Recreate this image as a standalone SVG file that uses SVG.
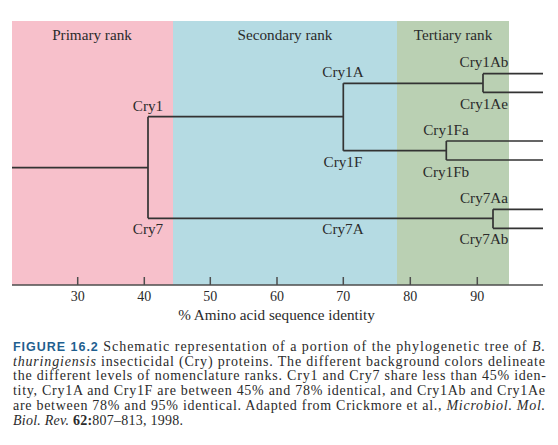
<svg xmlns="http://www.w3.org/2000/svg" width="558" height="445" viewBox="0 0 558 445">
<style>
.lbl{font-family:"Liberation Serif","Times New Roman",serif;font-size:15.2px;fill:#2b2b2b;text-anchor:middle}
.tick{font-family:"Liberation Serif","Times New Roman",serif;font-size:14px;fill:#2b2b2b;text-anchor:middle}
.cap{font-family:"Liberation Serif","Times New Roman",serif;font-size:14px;fill:#2b2b2b}
.fig{font-family:"Liberation Sans",Arial,sans-serif;font-weight:bold;font-size:12.5px;fill:#1f5f8f}
.br{fill:none;stroke:#333;stroke-width:1.7}
.ax{fill:none;stroke:#4d4d4d;stroke-width:1.5}
</style>
<rect width="558" height="445" fill="#ffffff"/>
<g id="bands">
<rect x="12" y="21" width="161" height="264" fill="#f7c0cb"/>
<rect x="173" y="21" width="224" height="264" fill="#b5dbe3"/>
<rect x="397" y="21" width="112" height="264" fill="#bad0b3"/>
<text class="lbl" x="92" y="40">Primary rank</text>
<text class="lbl" x="285" y="40">Secondary rank</text>
<text class="lbl" x="453" y="40">Tertiary rank</text>
</g>
<g id="connectors">
<path class="br" d="M12,167.7 H148 M148,116.7 V218.3 M148,116.7 H343.3 M343.3,83.3 V150.7 M343.3,83.3 H483 M483,73.7 V92.3 M483,73.7 H543 M483,92.3 H543 M343.3,150.7 H446.3 M446.3,141 V160 M446.3,141 H543 M446.3,160 H543 M148,218.3 H493 M493,209.3 V228.3 M493,209.3 H543 M493,228.3 H543"/>
</g>
<g id="axis">
<path class="ax" d="M12,285 H543 M77.7,277 V285 M144.3,277 V285 M210.3,277 V285 M277,277 V285 M343.3,277 V285 M410.3,277 V285 M477.3,277 V285"/>
<text class="tick" x="77.7" y="301">30</text>
<text class="tick" x="144.3" y="301">40</text>
<text class="tick" x="210.3" y="301">50</text>
<text class="tick" x="277" y="301">60</text>
<text class="tick" x="343.3" y="301">70</text>
<text class="tick" x="410.3" y="301">80</text>
<text class="tick" x="477.3" y="301">90</text>
<text class="lbl" x="276.5" y="320">% Amino acid sequence identity</text>
</g>
<g id="node-cry1"><text class="lbl" x="148" y="110.5">Cry1</text></g>
<g id="node-cry7"><text class="lbl" x="148" y="234">Cry7</text></g>
<g id="node-cry1a"><text class="lbl" x="343" y="77">Cry1A</text></g>
<g id="node-cry1f"><text class="lbl" x="343" y="166.5">Cry1F</text></g>
<g id="node-cry7a"><text class="lbl" x="343" y="233.5">Cry7A</text></g>
<g id="node-cry1ab"><text class="lbl" x="484" y="66.5">Cry1Ab</text></g>
<g id="node-cry1ae"><text class="lbl" x="484" y="109">Cry1Ae</text></g>
<g id="node-cry1fa"><text class="lbl" x="446" y="135">Cry1Fa</text></g>
<g id="node-cry1fb"><text class="lbl" x="446" y="176.5">Cry1Fb</text></g>
<g id="node-cry7aa"><text class="lbl" x="484" y="202.5">Cry7Aa</text></g>
<g id="node-cry7ab"><text class="lbl" x="484" y="244">Cry7Ab</text></g>
<g id="caption">
<text class="cap" x="13" y="350.5" textLength="532" lengthAdjust="spacing"><tspan class="fig">FIGURE 16.2</tspan> Schematic representation of a portion of the phylogenetic tree of <tspan font-style="italic">B.</tspan></text>
<text class="cap" x="13" y="365.5" textLength="532" lengthAdjust="spacing"><tspan font-style="italic">thuringiensis</tspan> insecticidal (Cry) proteins. The different background colors delineate</text>
<text class="cap" x="13" y="380.3" textLength="533" lengthAdjust="spacing">the different levels of nomenclature ranks. Cry1 and Cry7 share less than 45% iden-</text>
<text class="cap" x="13" y="395.1" textLength="532" lengthAdjust="spacing">tity, Cry1A and Cry1F are between 45% and 78% identical, and Cry1Ab and Cry1Ae</text>
<text class="cap" x="13" y="409.9" textLength="532" lengthAdjust="spacing">are between 78% and 95% identical. Adapted from Crickmore et al., <tspan font-style="italic">Microbiol. Mol.</tspan></text>
<text class="cap" x="13" y="424.7" textLength="170" lengthAdjust="spacing"><tspan font-style="italic">Biol. Rev.</tspan> <tspan font-weight="bold">62:</tspan>807–813, 1998.</text>
</g>
</svg>
